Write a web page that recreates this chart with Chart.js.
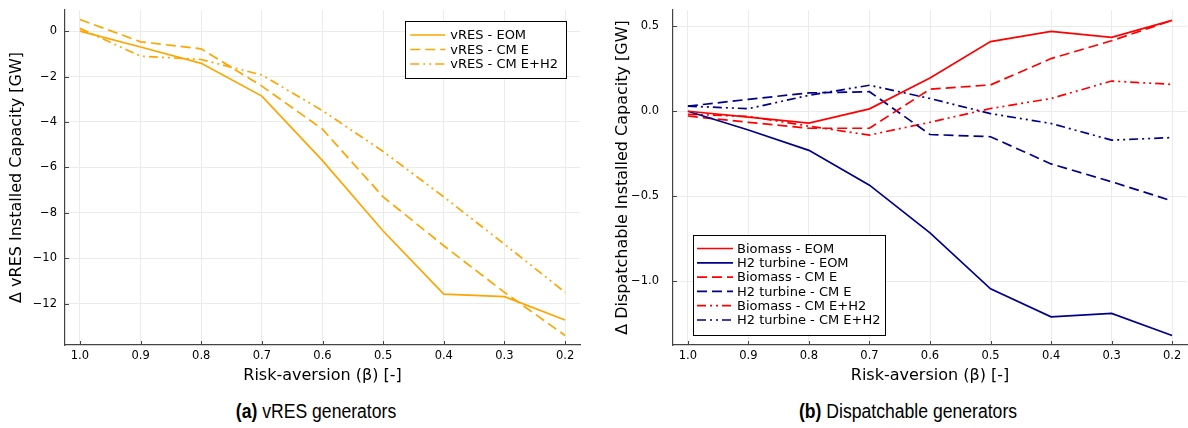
<!DOCTYPE html>
<html><head><meta charset="utf-8">
<script src="https://cdn.jsdelivr.net/npm/chart.js@4.4.1/dist/chart.umd.min.js"></script>
<style>
html,body{margin:0;padding:0;background:#fff;width:1188px;height:428px;overflow:hidden}
.wrap{position:absolute;top:0;width:594px;height:390px}
.cap{position:absolute;top:399px;font-family:"Liberation Sans Narrow","Liberation Sans",Arial,sans-serif;font-size:20px;line-height:24px;color:#000;white-space:nowrap;transform:translateX(-50%) scaleX(0.88)}
</style></head><body>
<div class="wrap" style="left:0"><canvas id="c1" width="594" height="390"></canvas></div>
<div class="wrap" style="left:594px"><canvas id="c2" width="594" height="390"></canvas></div>
<div class="cap" style="left:316px"><b>(a)</b> vRES generators</div>
<div class="cap" style="left:908px"><b>(b)</b> Dispatchable generators</div>
<script>
// ---- data ----
const betas = [1.0, 0.9, 0.8, 0.7, 0.6, 0.5, 0.4, 0.3, 0.2];
const vresEOM   = [0.0, -0.70, -1.42, -2.86, -5.70, -8.80, -11.58, -11.69, -12.72];
const vresCME   = [0.51, -0.47, -0.78, -2.42, -4.32, -7.30, -9.45, -11.50, -13.40];
const vresCMEH2 = [0.12, -1.10, -1.25, -1.93, -3.50, -5.30, -7.30, -9.38, -11.50];
const bioEOM    = [0.0, -0.035, -0.07, 0.014, 0.196, 0.41, 0.47, 0.435, 0.535];
const h2EOM     = [0.0, -0.11, -0.23, -0.435, -0.716, -1.045, -1.21, -1.19, -1.32];
const bioCME    = [-0.028, -0.065, -0.10, -0.10, 0.13, 0.155, 0.31, 0.415, 0.535];
const h2CME     = [0.03, 0.07, 0.108, 0.115, -0.137, -0.15, -0.31, -0.415, -0.528];
const bioCMEH2  = [-0.018, -0.03, -0.088, -0.14, -0.065, 0.016, 0.075, 0.178, 0.158];
const h2CMEH2   = [0.03, 0.015, 0.094, 0.153, 0.075, -0.014, -0.072, -0.17, -0.155];
const yTicksLeft  = [0, -2, -4, -6, -8, -10, -12];
const yTicksRight = [0.5, 0.0, -0.5, -1.0];
const xTitle = 'Risk-aversion (β) [-]';
const yTitleLeft = 'Δ vRES Installed Capacity [GW]';
const yTitleRight = 'Δ Dispatchable Installed Capacity [GW]';

Chart.defaults.font.family = '"DejaVu Sans", sans-serif';
Chart.defaults.color = '#000';

const ORANGE = '#FFA500', RED = '#FF0000', BLUE = '#00008B';
const DASH = [10, 5], DDD = [9, 4, 2, 4, 2, 4];
const AXIS = '#444';

const fmtMinus = s => String(s).replace('-', '\u2212');

// small inward tick marks, drawn at the scales' own tick positions
const innerTicks = {
  id: 'innerTicks',
  afterDatasetsDraw(chart) {
    const ctx = chart.ctx, ca = chart.chartArea, xs = chart.scales.x, ys = chart.scales.y;
    ctx.save();
    ctx.strokeStyle = AXIS; ctx.lineWidth = 1; ctx.beginPath();
    xs.ticks.forEach((t, i) => { const px = Math.round(xs.getPixelForTick(i)) + 0.5;
      ctx.moveTo(px, ca.bottom); ctx.lineTo(px, ca.bottom - 4); });
    ys.ticks.forEach((t, i) => { const py = Math.round(ys.getPixelForTick(i)) + 0.5;
      ctx.moveTo(ca.left, py); ctx.lineTo(ca.left + 4, py); });
    ctx.stroke(); ctx.restore();
  }
};

const insideLegend = {
  id: 'insideLegend',
  afterDraw(chart, args, o) {
    if (!o || !o.display) return;
    const ctx = chart.ctx, ca = chart.chartArea, ds = chart.data.datasets;
    ctx.save();
    ctx.font = o.font;
    let maxW = 0;
    ds.forEach(d => { maxW = Math.max(maxW, ctx.measureText(d.label).width); });
    const w = o.padL + o.sample + o.gap + maxW + o.padR;
    const h = o.padT + o.row * (ds.length - 1) + o.padB;
    const x = o.anchor === 'tr' ? ca.right - o.dx - w : ca.left + o.dx;
    const y = o.anchor === 'tr' ? ca.top + o.dy : ca.bottom - o.dy - h;
    ctx.fillStyle = '#fff';
    ctx.fillRect(x, y, w, h);
    ctx.strokeStyle = '#000'; ctx.lineWidth = 1;
    ctx.strokeRect(Math.round(x) + 0.5, Math.round(y) + 0.5, Math.round(w), Math.round(h));
    ds.forEach((d, i) => {
      const cy = y + o.padT + i * o.row;
      ctx.beginPath();
      ctx.setLineDash(d.borderDash || []);
      ctx.strokeStyle = d.borderColor; ctx.lineWidth = d.borderWidth;
      ctx.moveTo(x + o.padL, cy); ctx.lineTo(x + o.padL + o.sample, cy); ctx.stroke();
      ctx.setLineDash([]);
      ctx.fillStyle = '#000'; ctx.textBaseline = 'middle'; ctx.textAlign = 'left';
      ctx.fillText(d.label, x + o.padL + o.sample + o.gap, cy + 1);
    });
    ctx.restore();
  }
};

function mkDs(label, data, color, dash) {
  return {label, data: betas.map((b, i) => ({x: b, y: data[i]})), borderColor: color,
          backgroundColor: color, borderWidth: 1.7, borderDash: dash, pointRadius: 0, fill: false, tension: 0};
}

function mkOpts(cfg) {
  return {
    responsive: false, animation: false,
    layout: {padding: {top: 10, right: cfg.padRight, left: 0, bottom: 0}},
    plugins: {legend: {display: false}, tooltip: {enabled: false}, insideLegend: cfg.legend},
    scales: {
      x: {
        type: 'linear', reverse: true, min: 0.1754, max: 1.0246,
        afterBuildTicks: s => { s.ticks = betas.map(v => ({value: v})); },
        afterFit: s => { s.height = 45; s.paddingLeft = 0; s.paddingRight = 0; },
        ticks: {font: {size: 11.5}, padding: 4, maxRotation: 0, autoSkip: false, callback: v => v.toFixed(1)},
        grid: {color: '#ebebeb', lineWidth: 1, drawTicks: false},
        border: {display: true, color: AXIS, width: 1.2},
        title: {display: true, text: xTitle, font: {size: 16}, padding: {top: 0, bottom: 5}}
      },
      y: {
        type: 'linear', min: cfg.ymin, max: cfg.ymax,
        afterBuildTicks: s => { s.ticks = cfg.yTicks.map(v => ({value: v})); },
        afterFit: s => { s.width = cfg.yWidth; s.paddingTop = 0; s.paddingBottom = 0; },
        ticks: {font: {size: 11.5}, padding: cfg.yPad, autoSkip: false, callback: cfg.yFmt},
        grid: {color: '#ebebeb', lineWidth: 1, drawTicks: false},
        border: {display: true, color: AXIS, width: 1.2},
        title: {display: true, text: cfg.yTitle, font: {size: 16}, padding: {top: cfg.yTitlePad, bottom: 0}}
      }
    }
  };
}

new Chart(document.getElementById('c1'), {
  type: 'line',
  data: {datasets: [
    mkDs('vRES - EOM', vresEOM, ORANGE, []),
    mkDs('vRES - CM E', vresCME, ORANGE, DASH),
    mkDs('vRES - CM E+H2', vresCMEH2, ORANGE, DDD)
  ]},
  options: mkOpts({padRight: 14, ymin: -13.82, ymax: 0.93, yTicks: yTicksLeft, yWidth: 65, yPad: 8,
    yFmt: v => fmtMinus(v), yTitle: yTitleLeft, yTitlePad: 7,
    legend: {display: true, anchor: 'tr', dx: 14, dy: 11, padL: 5, sample: 35, gap: 5, padR: 8,
             padT: 14, row: 14.5, padB: 14, font: '13px "DejaVu Sans", sans-serif'}}),
  plugins: [insideLegend, innerTicks]
});

new Chart(document.getElementById('c2'), {
  type: 'line',
  data: {datasets: [
    mkDs('Biomass - EOM', bioEOM, RED, []),
    mkDs('H2 turbine - EOM', h2EOM, BLUE, []),
    mkDs('Biomass - CM E', bioCME, RED, DASH),
    mkDs('H2 turbine - CM E', h2CME, BLUE, DASH),
    mkDs('Biomass - CM E+H2', bioCMEH2, RED, DDD),
    mkDs('H2 turbine - CM E+H2', h2CMEH2, BLUE, DDD)
  ]},
  options: mkOpts({padRight: 1, ymin: -1.376, ymax: 0.596, yTicks: yTicksRight, yWidth: 79, yPad: 14,
    yFmt: v => fmtMinus(v.toFixed(1)), yTitle: yTitleRight, yTitlePad: 19,
    legend: {display: true, anchor: 'bl', dx: 20, dy: 11, padL: 4, sample: 36, gap: 4, padR: 5,
             padT: 14, row: 14.3, padB: 14, font: '13px "DejaVu Sans", sans-serif'}}),
  plugins: [insideLegend, innerTicks]
});
</script>
</body></html>
